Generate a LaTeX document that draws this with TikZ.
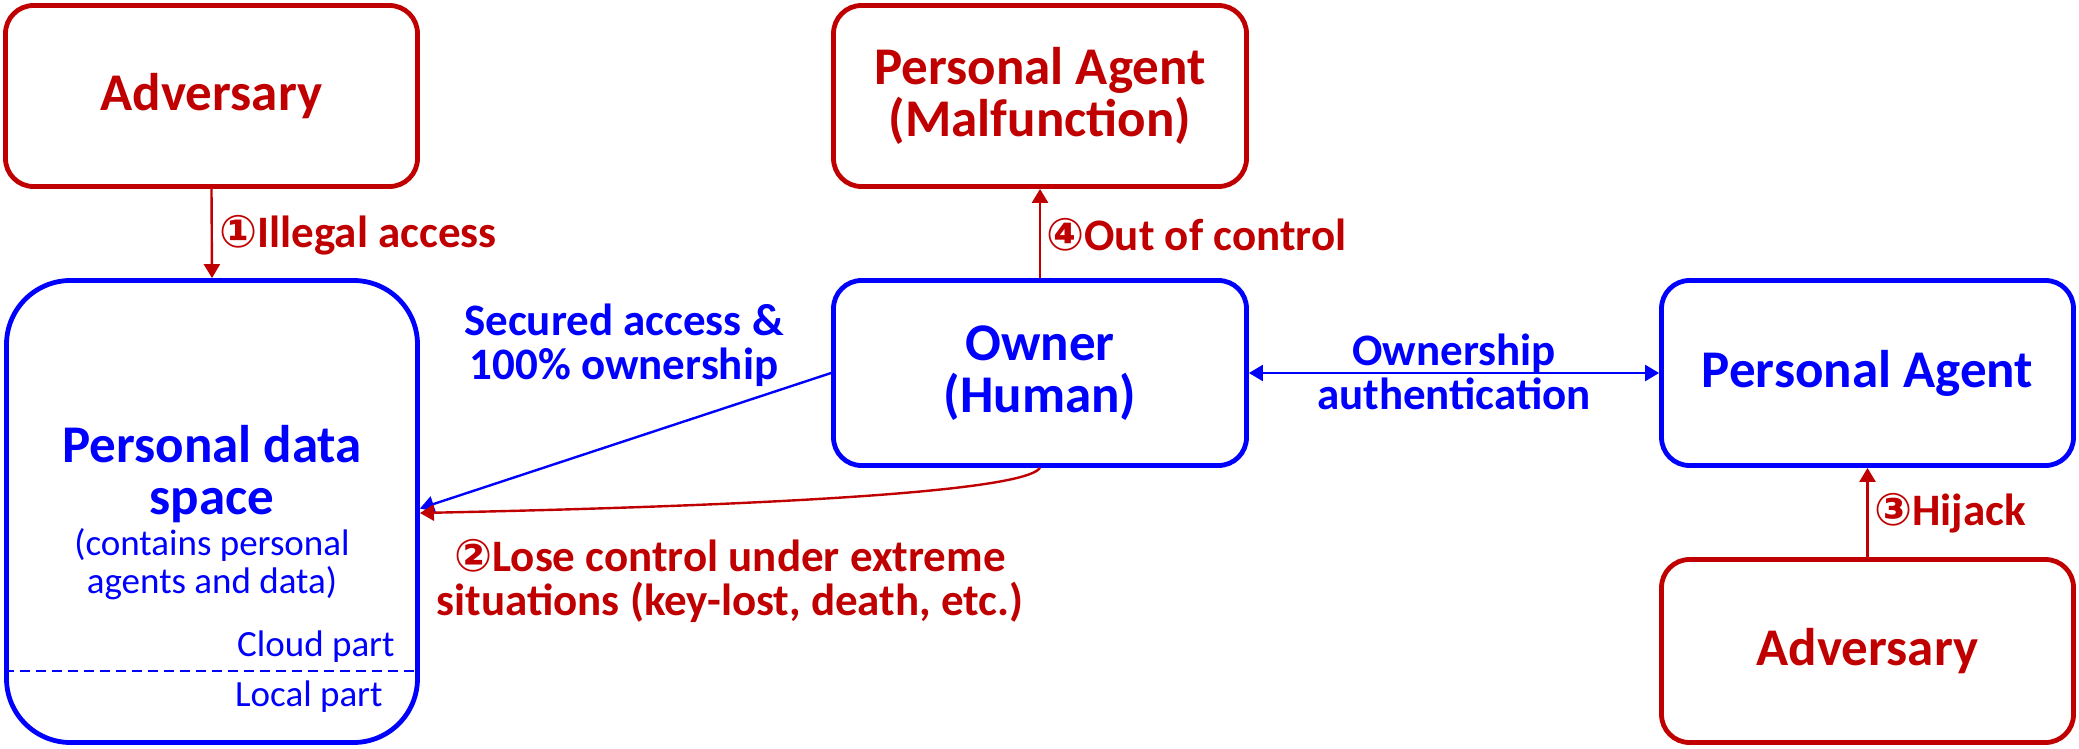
\documentclass[tikz,border=0pt]{standalone}
\usepackage{fontspec}
\setmainfont{Carlito}
\newfontfamily\circfont{DejaVu Sans}
\usetikzlibrary{arrows.meta}
\definecolor{dred}{HTML}{C00000}
\definecolor{dblue}{HTML}{0000FF}
\newcommand\mybig{\fontsize{26.5}{26}\selectfont\bfseries}
\newcommand\mylbl{\fontsize{22.5}{22}\selectfont\bfseries}
\newcommand\mysmall{\fontsize{18.5}{19}\selectfont}
\begin{document}
\begin{tikzpicture}[x=0.5pt,y=-0.5pt,
  basebox/.style={draw, line width=2.4pt, rounded corners=14pt, font=\mybig, align=center, inner sep=0pt},
  redbox/.style={basebox, draw=dred, text=dred},
  bluebox/.style={basebox, draw=dblue, text=dblue},
  conn/.style={line width=1.2pt, -{Triangle[length=7pt,width=8pt]}},
  lbl/.style={font=\mylbl, align=center, inner sep=0pt}
]
\useasboundingbox (0,0) rectangle (2079,749);

% boxes
\node[redbox, minimum width=206pt, minimum height=90.5pt] (adv1) at (211.5,96) {Adversary};
\node[bluebox, rounded corners=32pt, minimum width=205.5pt, minimum height=231pt] (pds) at (212,511.5) {};
\node[redbox, minimum width=206.5pt, minimum height=90.5pt] (malf) at (1040,96) {Personal Agent\\(Malfunction)};
\node[bluebox, minimum width=206.5pt, minimum height=92.5pt] (owner) at (1040,373) {Owner\\(Human)};
\node[bluebox, minimum width=206pt, minimum height=92.5pt] (pa) at (1867.5,373) {Personal Agent};
\node[redbox, minimum width=206pt, minimum height=91.5pt] (adv2) at (1867.5,651) {Adversary};

% text inside personal data space
\node[font=\mybig, text=dblue, align=center, inner sep=0pt] (pdstitle) at (212,474) {Personal data\\space};
\node[font=\mysmall, text=dblue, align=center, inner sep=0pt] (pdssub) at (212,564) {(contains personal\\agents and data)};
\node[font=\mysmall, text=dblue, anchor=east, inner sep=0pt] (cloud) at (395,647) {Cloud part};
\node[font=\mysmall, text=dblue, anchor=east, inner sep=0pt] (local) at (383,697) {Local part};
\draw[dblue, line width=0.7pt, dash pattern=on 5pt off 3pt] (pds.west |- 0,671) -- (pds.east |- 0,671);

% connectors
\draw[conn, dred] (adv1.south) -- (pds.north);
\draw[conn, dred] (owner.north) -- (malf.south);
\draw[conn, dred] (adv2.north) -- (pa.south);
\draw[line width=1.2pt, dblue, {Triangle[length=7pt,width=8pt]}-{Triangle[length=7pt,width=8pt]}] (owner.east) -- (pa.west);
\draw[conn, dblue] (owner.west) -- ([yshift=1.5pt]pds.east);
\draw[conn, dred] (owner.south) .. controls (1025,490) and (800,505) .. ([yshift=-0.75pt]pds.east);

% labels
\node[lbl, text=dred, anchor=west] (l1) at (219,235) {{\circfont ①}Illegal access};
\node[lbl, text=dred, anchor=west] (l4) at (1046,235) {{\circfont ④}Out of control};
\node[lbl, text=dred, anchor=west] (l3) at (1874,513) {{\circfont ③}Hijack};
\node[lbl, text=dblue] (lauth) at (1454,372) {Ownership\\authentication};
\node[lbl, text=dblue] (lsec) at (624,345) {Secured access \&\\100\% ownership};
\node[lbl, text=dred] (l2) at (730,581) {{\circfont ②}Lose control under extreme\\situations (key-lost, death, etc.)};
\end{tikzpicture}
\end{document}
